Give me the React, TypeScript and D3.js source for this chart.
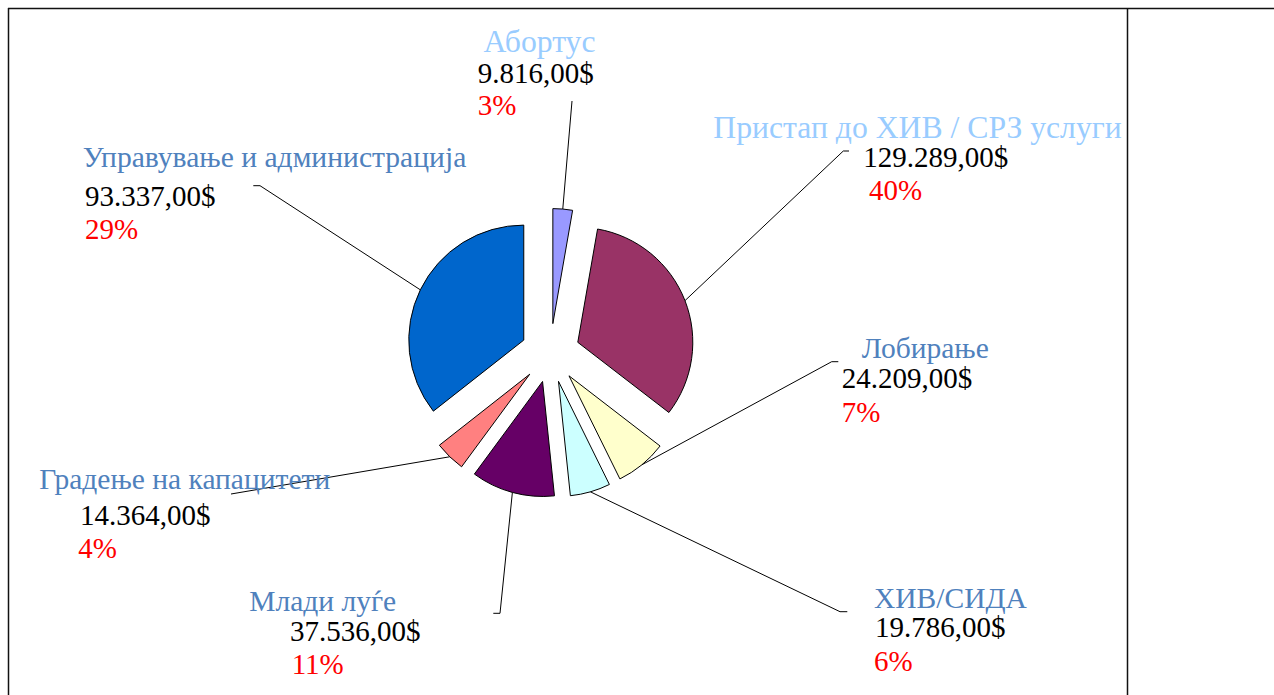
import React from 'react';
import * as d3 from 'd3';

// ---- data ----
const categories = [
  'Абортус',
  'Пристап до ХИВ / СРЗ услуги',
  'Лобирање',
  'ХИВ/СИДА',
  'Млади луѓе',
  'Градење на капацитети',
  'Управување и администрација',
];
const amounts = [9816, 129289, 24209, 19786, 37536, 14364, 93337];
const amountLabels = ['9.816,00$', '129.289,00$', '24.209,00$', '19.786,00$', '37.536,00$', '14.364,00$', '93.337,00$'];
const percentLabels = ['3%', '40%', '7%', '6%', '11%', '4%', '29%'];
// slice sizes as drawn in the picture (% of the full circle)
const sliceShares = [2.75, 32.7, 7.25, 5.65, 11.75, 4.3, 35.6];

// ---- styles ----
const sliceColors = ['#9999FF', '#993366', '#FFFFCC', '#CCFFFF', '#660066', '#FF8080', '#0066CC'];
const nameColors = ['#99CCFF', '#99CCFF', '#4F81BD', '#4F81BD', '#4F81BD', '#4F81BD', '#4F81BD'];
const nameSizes = [31.7, 31.7, 29.5, 29.5, 29.5, 29.5, 29.6];

// ---- layout ----
const W = 1274;
const H = 695;
const cx = 550.3;
const cy = 353;
const R = 115;
const explode = 29.5;
const FONT = "'Liberation Serif', 'Times New Roman', serif";
const FS = 29;

type Lay = {
  name: [number, number];
  amount: [number, number];
  pct: [number, number];
  elbow: [number, number];
  hook: number | null;
};
const layout: Lay[] = [
  { name: [483.5, 52.3], amount: [477.7, 82.7], pct: [477.7, 115], elbow: [572, 101], hook: null },
  { name: [713.3, 138.3], amount: [863.3, 166.7], pct: [869, 200], elbow: [843.3, 151], hook: 849 },
  { name: [861.7, 358.3], amount: [841.7, 388.3], pct: [841.7, 421.7], elbow: [831.7, 361.7], hook: 838.3 },
  { name: [874, 608.3], amount: [875, 636.7], pct: [874, 671], elbow: [840, 611.7], hook: 847.3 },
  { name: [249.3, 610.7], amount: [290, 641], pct: [291.7, 674.3], elbow: [500, 613.3], hook: 493.3 },
  { name: [39.3, 489.3], amount: [80, 525], pct: [78.3, 558.3], elbow: [231, 494], hook: null },
  { name: [82.7, 166.7], amount: [85, 206], pct: [85, 239.3], elbow: [260, 185.7], hook: 253.3 },
];

export default function App() {
  const pie = d3
    .pie<number>()
    .sort(null)
    .value((d) => d)
    .startAngle(0)
    .endAngle(2 * Math.PI);
  const arcs = pie(sliceShares);
  const arcGen = d3.arc<d3.PieArcDatum<number>>().innerRadius(0).outerRadius(R);

  return (
    <svg
      width={W}
      height={H}
      style={{ position: 'absolute', left: 0, top: 0, background: '#fff' }}
      fontFamily={FONT}
    >
      <rect x={0} y={0} width={W} height={H} fill="#fff" />
      {/* frame */}
      <line x1={8} y1={8.5} x2={W} y2={8.5} stroke="#111" strokeWidth={1.5} />
      <line x1={8.5} y1={8} x2={8.5} y2={H} stroke="#111" strokeWidth={1.5} />
      <line x1={1127.5} y1={8} x2={1127.5} y2={H} stroke="#111" strokeWidth={1.5} />

      {arcs.map((a, i) => {
        const mid = (a.startAngle + a.endAngle) / 2;
        const ux = Math.sin(mid);
        const uy = -Math.cos(mid);
        const ox = cx + ux * explode;
        const oy = cy + uy * explode;
        return (
          <path
            key={'s' + i}
            d={arcGen(a) || ''}
            transform={`translate(${ox},${oy})`}
            fill={sliceColors[i]}
            stroke="#000"
            strokeWidth={1}
          />
        );
      })}

      {arcs.map((a, i) => {
        const mid = (a.startAngle + a.endAngle) / 2;
        const ux = Math.sin(mid);
        const uy = -Math.cos(mid);
        const sx = cx + ux * (explode + R);
        const sy = cy + uy * (explode + R);
        const L = layout[i];
        const pts: [number, number][] = [[sx, sy], L.elbow];
        if (L.hook !== null) pts.push([L.hook, L.elbow[1]]);
        const line = d3.line()(pts) || '';
        return <path key={'l' + i} d={line} fill="none" stroke="#000" strokeWidth={1} />;
      })}

      {categories.map((c, i) => {
        const L = layout[i];
        return (
          <g key={'t' + i} fontSize={FS}>
            <text x={L.name[0]} y={L.name[1]} fill={nameColors[i]} fontSize={nameSizes[i]} data-value={amounts[i]}>
              {c}
            </text>
            <text x={L.amount[0]} y={L.amount[1]} fill="#000">
              {amountLabels[i]}
            </text>
            <text x={L.pct[0]} y={L.pct[1]} fill="#FF0000">
              {percentLabels[i]}
            </text>
          </g>
        );
      })}
    </svg>
  );
}
